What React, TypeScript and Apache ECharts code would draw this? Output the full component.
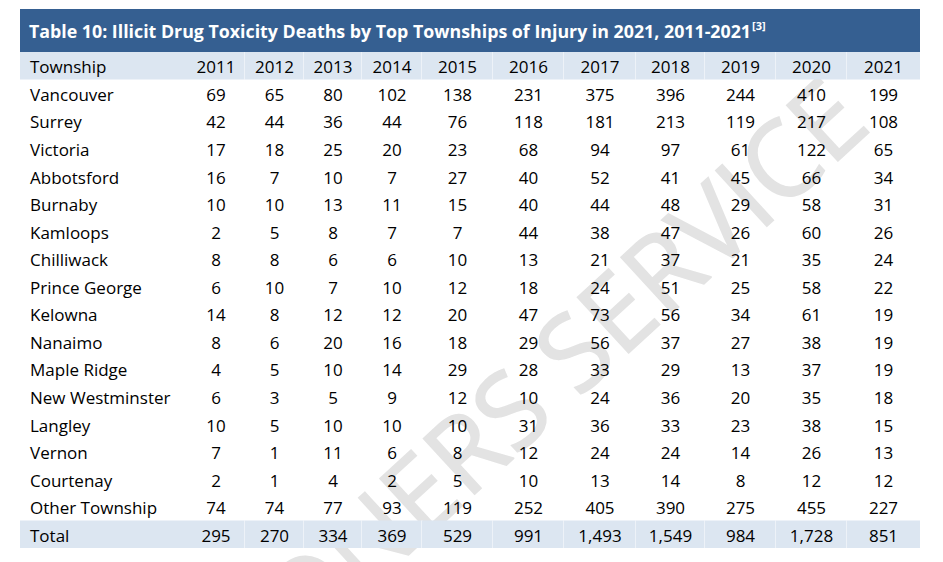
import React, { useEffect, useRef } from "react";
import * as echarts from "echarts";

// ---- Data ----
const titleText = "Table 10: Illicit Drug Toxicity Deaths by Top Townships of Injury in 2021, 2011-2021";
const titleNote = "[3]";
const headerLabel = "Township";
const totalLabel = "Total";
const years = ["2011", "2012", "2013", "2014", "2015", "2016", "2017", "2018", "2019", "2020", "2021"];
const townships = [
  "Vancouver", "Surrey", "Victoria", "Abbotsford", "Burnaby", "Kamloops", "Chilliwack",
  "Prince George", "Kelowna", "Nanaimo", "Maple Ridge", "New Westminster", "Langley",
  "Vernon", "Courtenay", "Other Township",
];
const y2011 = [69, 42, 17, 16, 10, 2, 8, 6, 14, 8, 4, 6, 10, 7, 2, 74];
const y2012 = [65, 44, 18, 7, 10, 5, 8, 10, 8, 6, 5, 3, 5, 1, 1, 74];
const y2013 = [80, 36, 25, 10, 13, 8, 6, 7, 12, 20, 10, 5, 10, 11, 4, 77];
const y2014 = [102, 44, 20, 7, 11, 7, 6, 10, 12, 16, 14, 9, 10, 6, 2, 93];
const y2015 = [138, 76, 23, 27, 15, 7, 10, 12, 20, 18, 29, 12, 10, 8, 5, 119];
const y2016 = [231, 118, 68, 40, 40, 44, 13, 18, 47, 29, 28, 10, 31, 12, 10, 252];
const y2017 = [375, 181, 94, 52, 44, 38, 21, 24, 73, 56, 33, 24, 36, 24, 13, 405];
const y2018 = [396, 213, 97, 41, 48, 47, 37, 51, 56, 37, 29, 36, 33, 24, 14, 390];
const y2019 = [244, 119, 61, 45, 29, 26, 21, 25, 34, 27, 13, 20, 23, 14, 8, 275];
const y2020 = [410, 217, 122, 66, 58, 60, 35, 58, 61, 38, 37, 35, 38, 26, 12, 455];
const y2021 = [199, 108, 65, 34, 31, 26, 24, 22, 19, 19, 19, 18, 15, 13, 12, 227];
const totals = [295, 270, 334, 369, 529, 991, 1493, 1549, 984, 1728, 851];
const watermarkText = "CORONERS SERVICE";

const yearValues = [y2011, y2012, y2013, y2014, y2015, y2016, y2017, y2018, y2019, y2020, y2021];

// ---- Layout (relative column widths, not data) ----
const colWidths = [167, 58, 59, 58, 60, 71, 71, 72, 69, 71, 71, 73];
const colStarts: number[] = [];
colWidths.reduce((acc, w) => { colStarts.push(acc); return acc + w; }, 0);
const tableUnits = colWidths.reduce((a, b) => a + b, 0);

const rowLabels = [headerLabel, ...townships, totalLabel];
const lastRow = rowLabels.length - 1;

type Cell = { col: number; row: number; text: string };
const cells: Cell[] = [];
rowLabels.forEach((label, r) => {
  cells.push({ col: 0, row: r, text: label });
  years.forEach((yr, c) => {
    let text: string;
    if (r === 0) text = yr;
    else if (r === lastRow) text = totals[c].toLocaleString("en-US");
    else text = String(yearValues[c][r - 1]);
    cells.push({ col: c + 1, row: r, text });
  });
});

const FONT = "'Open Sans', 'Noto Sans', sans-serif";
const SHADE = "#DCE6F1";
const BAR = "#355F91";

export default function App() {
  const ref = useRef<HTMLDivElement>(null);
  useEffect(() => {
    if (!ref.current) return;
    const chart = echarts.init(ref.current, undefined, { renderer: "svg" });
    chart.setOption({
      animation: false,
      backgroundColor: "#ffffff",
      title: {
        text: titleText + "{sup|" + titleNote + "}",
        left: 29,
        top: 20,
        padding: 0,
        textStyle: {
          color: "#ffffff",
          fontFamily: FONT,
          fontWeight: "bold",
          fontSize: 17.8,
          lineHeight: 22,
          rich: {
            sup: {
              color: "#ffffff",
              fontFamily: FONT,
              fontWeight: "bold",
              fontSize: 11,
              lineHeight: 22,
              verticalAlign: "top",
              padding: [0, 0, 9, 1],
            },
          },
        },
      },
      grid: { left: 20, right: 23, top: 52, bottom: 14 },
      xAxis: { type: "value", min: 0, max: tableUnits, show: false },
      yAxis: { type: "category", data: rowLabels, inverse: true, show: false },
      graphic: [
        {
          type: "rect",
          z: 0,
          shape: { x: 20, y: 9, width: 900, height: 43 },
          style: { fill: BAR },
        },
        {
          type: "text",
          z: 0,
          x: 846,
          y: 98,
          rotation: (42.5 * Math.PI) / 180,
          style: {
            text: watermarkText,
            align: "right",
            verticalAlign: "middle",
            fill: "#e3e3e3",
            stroke: "#e3e3e3",
            lineWidth: 1.5,
            fontSize: 106,
            fontFamily: FONT,
          },
        },
      ],
      series: [
        {
          type: "custom",
          z: 5,
          encode: { x: 0, y: 1 },
          data: cells.map((c) => [colStarts[c.col], c.row, colWidths[c.col]]),
          renderItem: (params: any, api: any) => {
            const cell = cells[params.dataIndex];
            const start = api.value(0);
            const w = api.value(2);
            const p0 = api.coord([start, cell.row]);
            const p1 = api.coord([start + w, cell.row]);
            const h = api.size([0, 1])[1];
            const x0 = p0[0];
            const x1 = p1[0];
            const yc = p0[1];
            const shaded = cell.row === 0 || cell.row === lastRow;
            const children: any[] = [];
            if (shaded) {
              children.push({
                type: "rect",
                shape: { x: x0, y: yc - h / 2, width: x1 - x0, height: h },
                style: { fill: SHADE },
              });
              if (cell.col >= 1 && cell.col < colWidths.length - 1) {
                children.push({
                  type: "line",
                  shape: { x1: x1, y1: yc - h / 2, x2: x1, y2: yc + h / 2 },
                  style: { stroke: "#ffffff", lineWidth: 1 },
                });
              }
            }
            const left = cell.col === 0;
            children.push({
              type: "text",
              style: {
                text: cell.text,
                x: left ? x0 + 10 : (x0 + x1) / 2,
                y: yc + 1,
                align: left ? "left" : "center",
                verticalAlign: "middle",
                fill: "#000000",
                fontSize: 17,
                fontFamily: FONT,
              },
            });
            return { type: "group", children };
          },
        },
      ],
    });
    return () => chart.dispose();
  }, []);
  return (
    <div
      ref={ref}
      style={{ position: "fixed", left: 0, top: 0, width: 943, height: 562 }}
    />
  );
}
